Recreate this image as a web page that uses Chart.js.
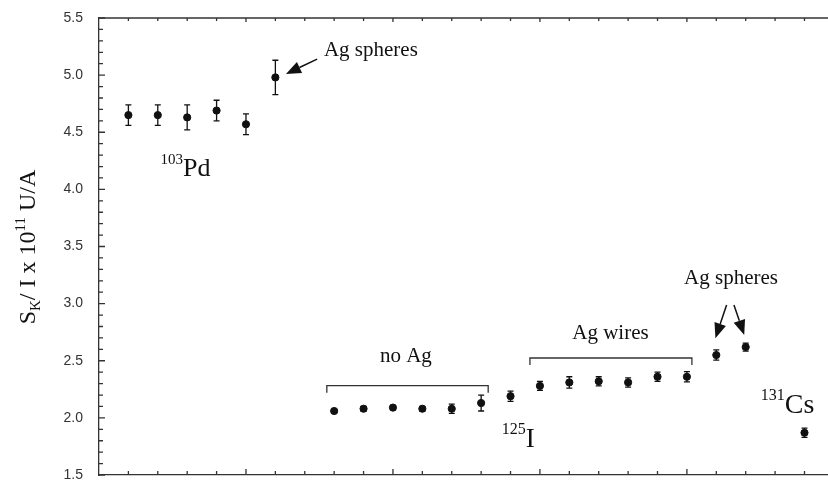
<!DOCTYPE html>
<html>
<head>
<meta charset="utf-8">
<script src="https://cdn.jsdelivr.net/npm/chart.js@4/dist/chart.umd.min.js"></script>
<style>
  html, body { margin: 0; padding: 0; background: #fff; overflow: hidden; }
  #clip { width: 828px; height: 480px; overflow: hidden; }
  #wrap { width: 828px; height: 496px; position: relative; }
</style>
</head>
<body>
<div id="clip"><div id="wrap"><canvas id="chart"></canvas></div></div>
<script>
// Pd-103 sources
const pdX = [1, 2, 3, 4, 5, 6];
const pdY = [4.65, 4.65, 4.63, 4.69, 4.57, 4.98];
const pdErr = [0.09, 0.09, 0.11, 0.09, 0.09, 0.15];

// I-125 sources (no Ag, plain, Ag wires, Ag spheres)
const iX = [8, 9, 10, 11, 12, 13, 14, 15, 16, 17, 18, 19, 20, 21, 22];
const iY = [2.06, 2.08, 2.09, 2.08, 2.08, 2.13, 2.19, 2.28, 2.31, 2.32, 2.31, 2.36, 2.36, 2.55, 2.62];
const iErr = [0.015, 0.02, 0.02, 0.02, 0.04, 0.07, 0.045, 0.04, 0.05, 0.04, 0.04, 0.04, 0.045, 0.045, 0.035];

// Cs-131 source
const csX = [24];
const csY = [1.87];
const csErr = [0.04];

const yMin = 1.5, yMax = 5.5, yStep = 0.5;
const xMin = 0, xMax = 24.8;

const toPoints = (xs, ys) => xs.map((x, i) => ({ x, y: ys[i] }));
const errs = [pdErr, iErr, csErr];

const SERIF = '"Liberation Serif", "Times New Roman", serif';
const INK = "#111";

function drawArrow(ctx, x1, y1, x2, y2) {
  const ang = Math.atan2(y2 - y1, x2 - x1);
  const hl = 15, hw = 6;
  const bx = x2 - hl * Math.cos(ang), by = y2 - hl * Math.sin(ang);
  ctx.beginPath();
  ctx.moveTo(x1, y1);
  ctx.lineTo(bx, by);
  ctx.stroke();
  ctx.beginPath();
  ctx.moveTo(x2, y2);
  ctx.lineTo(bx + hw * Math.sin(ang), by - hw * Math.cos(ang));
  ctx.lineTo(bx - hw * Math.sin(ang), by + hw * Math.cos(ang));
  ctx.closePath();
  ctx.fill();
}

function isotope(ctx, sup, main, px, py, size) {
  ctx.textBaseline = "alphabetic";
  ctx.font = `${size}px ${SERIF}`;
  ctx.textAlign = "left";
  ctx.fillText(main, px, py);
  ctx.font = `${Math.round(size * 0.58)}px ${SERIF}`;
  ctx.textAlign = "right";
  ctx.fillText(sup, px, py - size * 0.48);
}

// drop the label overflow padding so the plot box sits exactly where we ask
const noPad = (s) => { s.paddingTop = 0; s.paddingBottom = 0; s.paddingLeft = 0; s.paddingRight = 0; };

const extras = {
  id: "extras",
  afterDatasetsDraw(chart) {
    const { ctx, chartArea: a, scales: { x, y } } = chart;
    ctx.save();
    ctx.strokeStyle = "#333";
    ctx.lineWidth = 1.3;

    // top frame line
    ctx.beginPath();
    ctx.moveTo(a.left, a.top);
    ctx.lineTo(a.right, a.top);
    ctx.stroke();

    // inward ticks on left, bottom and top
    ctx.beginPath();
    for (let k = yMin * 10; k <= yMax * 10; k++) {
      const py = y.getPixelForValue(k / 10);
      const len = k % 5 === 0 ? 6 : 4;
      ctx.moveTo(a.left, py);
      ctx.lineTo(a.left + len, py);
    }
    for (let k = 1; k <= Math.floor(xMax); k++) {
      const px = x.getPixelForValue(k);
      ctx.moveTo(px, a.bottom);
      ctx.lineTo(px, a.bottom - (k % 5 === 0 ? 6 : 4));
      ctx.moveTo(px, a.top);
      ctx.lineTo(px, a.top + (k % 5 === 0 ? 4 : 3));
    }
    ctx.stroke();

    // error bars
    ctx.strokeStyle = INK;
    ctx.lineWidth = 1.3;
    chart.data.datasets.forEach((ds, di) => {
      ds.data.forEach((p, i) => {
        const e = errs[di][i];
        const px = x.getPixelForValue(p.x);
        const top = y.getPixelForValue(p.y + e);
        const bot = y.getPixelForValue(p.y - e);
        ctx.beginPath();
        ctx.moveTo(px, top); ctx.lineTo(px, bot);
        ctx.moveTo(px - 3, top); ctx.lineTo(px + 3, top);
        ctx.moveTo(px - 3, bot); ctx.lineTo(px + 3, bot);
        ctx.stroke();
      });
    });

    // annotations
    const X = (v) => x.getPixelForValue(v);
    const Y = (v) => y.getPixelForValue(v);
    ctx.fillStyle = INK;
    ctx.strokeStyle = INK;
    ctx.font = `21px ${SERIF}`;
    ctx.textAlign = "center";
    ctx.textBaseline = "middle";
    ctx.fillText("Ag spheres", X(9.25), Y(5.22));
    ctx.fillText("no Ag", X(10.44), Y(2.533));
    ctx.fillText("Ag wires", X(17.4), Y(2.743));
    ctx.fillText("Ag spheres", X(21.5), Y(3.216));

    ctx.lineWidth = 1.5;
    drawArrow(ctx, X(7.42), Y(5.14), X(6.36), Y(5.01));
    drawArrow(ctx, X(21.35), Y(2.988), X(20.97), Y(2.697));
    drawArrow(ctx, X(21.6), Y(2.988), X(21.95), Y(2.725));

    // brackets
    ctx.strokeStyle = "#333";
    ctx.lineWidth = 1.3;
    [[7.75, 13.24, 2.282], [14.66, 20.17, 2.524]].forEach(([x0, x1, yv]) => {
      const py = Y(yv);
      ctx.beginPath();
      ctx.moveTo(X(x0), py + 7);
      ctx.lineTo(X(x0), py);
      ctx.lineTo(X(x1), py);
      ctx.lineTo(X(x1), py + 7);
      ctx.stroke();
    });

    isotope(ctx, "103", "Pd", X(2.86), Y(4.117), 26);
    isotope(ctx, "125", "I", X(14.52), Y(1.745), 27);
    isotope(ctx, "131", "Cs", X(23.33), Y(2.043), 28);

    // y axis title with subscript / superscript
    const parts = [
      { t: "S", s: 24, dy: 0 },
      { t: "K", s: 15, dy: 5 },
      { t: "/ I x 10", s: 24, dy: 0 },
      { t: "11", s: 15, dy: -10 },
      { t: " U/A", s: 24, dy: 0 },
    ];
    let total = 0;
    parts.forEach((p) => { ctx.font = `${p.s}px ${SERIF}`; p.w = ctx.measureText(p.t).width; total += p.w; });
    ctx.translate(35, 247);
    ctx.rotate(-Math.PI / 2);
    ctx.textAlign = "left";
    ctx.textBaseline = "alphabetic";
    let cx = -total / 2;
    parts.forEach((p) => {
      ctx.font = `${p.s}px ${SERIF}`;
      ctx.fillText(p.t, cx, p.dy);
      cx += p.w;
    });
    ctx.restore();
  },
};

const dot = { backgroundColor: INK, borderColor: INK, pointRadius: 3.6, pointHoverRadius: 3.6, showLine: false };

new Chart(document.getElementById("chart"), {
  type: "scatter",
  data: {
    datasets: [
      { label: "103Pd", data: toPoints(pdX, pdY), ...dot },
      { label: "125I", data: toPoints(iX, iY), ...dot },
      { label: "131Cs", data: toPoints(csX, csY), ...dot },
    ],
  },
  options: {
    responsive: true,
    maintainAspectRatio: false,
    animation: false,
    layout: { autoPadding: false, padding: { top: 18, right: 0, bottom: 21, left: 0 } },
    plugins: { legend: { display: false }, tooltip: { enabled: false } },
    scales: {
      x: {
        type: "linear", min: xMin, max: xMax,
        ticks: { display: false },
        grid: { display: false, drawTicks: false },
        border: { display: true, color: "#333", width: 1.3 },
        afterFit: (s) => { s.height = 0; noPad(s); },
      },
      y: {
        type: "linear", min: yMin, max: yMax,
        ticks: {
          stepSize: yStep, padding: 16, color: "#333",
          font: { family: '"Liberation Sans", Arial, sans-serif', size: 14 },
          callback: (v) => Number(v).toFixed(1),
        },
        grid: { drawOnChartArea: false, drawTicks: false },
        border: { display: true, color: "#333", width: 1.3 },
        afterFit: (s) => { s.width = 99; noPad(s); },
      },
    },
  },
  plugins: [extras],
});
</script>
</body>
</html>
